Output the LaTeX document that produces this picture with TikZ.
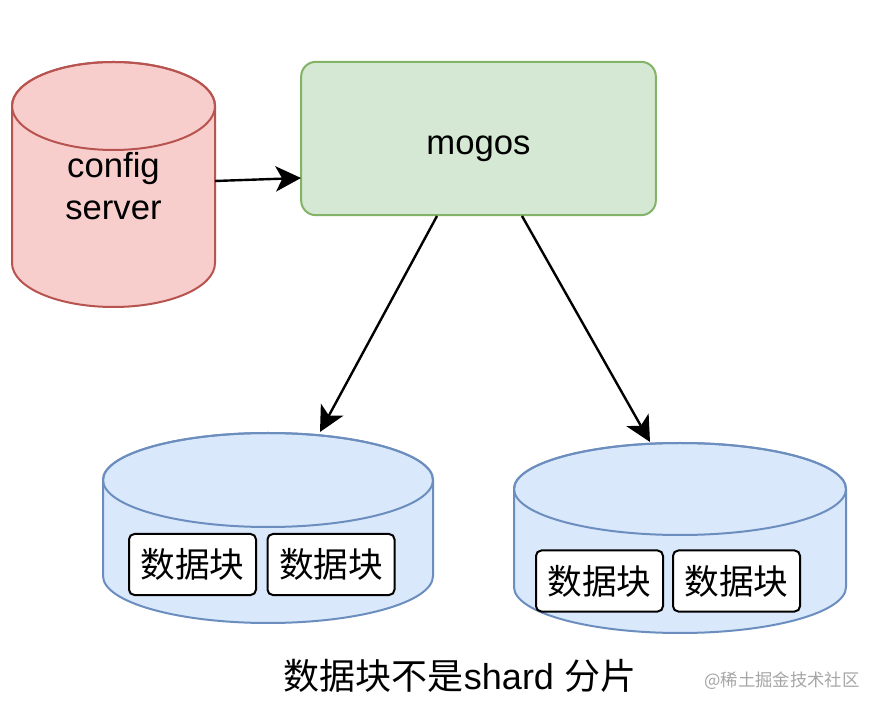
\documentclass[tikz,border=0pt]{standalone}
\usepackage{fontspec}
\setmainfont{Liberation Sans}
\newfontfamily\cjk{Noto Sans CJK SC}
\usetikzlibrary{arrows.meta}
\definecolor{redfill}{HTML}{F8CECC}
\definecolor{redline}{HTML}{B85450}
\definecolor{greenfill}{HTML}{D5E8D4}
\definecolor{greenline}{HTML}{82B366}
\definecolor{bluefill}{HTML}{DAE8FC}
\definecolor{blueline}{HTML}{6C8EBF}
\tikzset{
  bigtext/.style={font=\fontsize{26}{32}\selectfont},
  blockbox/.style={draw=black, fill=white, line width=1.5pt, rounded corners=4pt,
     minimum width=95.25pt, minimum height=45.75pt, inner sep=0pt,
     font=\cjk\fontsize{26}{30}\selectfont},
  conn/.style={line width=1.8pt, -{Stealth[length=19pt,width=19pt,inset=5pt]}},
}
\begin{document}
\begin{tikzpicture}[x=0.75pt,y=0.75pt]
\fill[white] (0,0) rectangle (870,703);
\useasboundingbox (0,0) rectangle (870,703);
% config server cylinder
\filldraw[fill=redfill, draw=redline, line width=1.5pt]
  (12,597) -- (12,440) arc[start angle=180,end angle=360,x radius=101.5,y radius=44]
  -- (215,597) arc[start angle=0,end angle=180,x radius=101.5,y radius=44] -- cycle;
\draw[redline, line width=1.5pt] (113.5,597) ellipse [x radius=101.5, y radius=44];
\node[bigtext, align=center] (cfg) at (113.5,517) {config\\server};
\coordinate (cfgE) at (215,522);
% mogos
\node[draw=greenline, fill=greenfill, line width=1.5pt, rounded corners=11pt,
  minimum width=266pt, minimum height=115pt, inner sep=0pt] (mogos) at (478.5,564.5) {};
\node[bigtext] (mogost) at (478.5,554) {mogos};
\coordinate (mogosW) at (301,525);
\coordinate (mogosL) at (437,487);
\coordinate (mogosR) at (522,487);
% left disk
\filldraw[fill=bluefill, draw=blueline, line width=1.5pt]
  (103,223) -- (103,127) arc[start angle=180,end angle=360,x radius=165,y radius=47]
  -- (433,223) arc[start angle=0,end angle=180,x radius=165,y radius=47] -- cycle;
\draw[blueline, line width=1.5pt] (268,223) ellipse [x radius=165, y radius=47];
\coordinate (diskL) at (320,271);
% right disk
\filldraw[fill=bluefill, draw=blueline, line width=1.5pt]
  (514,214) -- (514,116) arc[start angle=180,end angle=360,x radius=166,y radius=46]
  -- (846,214) arc[start angle=0,end angle=180,x radius=166,y radius=46] -- cycle;
\draw[blueline, line width=1.5pt] (680,214) ellipse [x radius=166, y radius=46];
\coordinate (diskR) at (650,261);
% blocks
\node[blockbox] (b1) at (192.5,138.5) {数据块};
\node[blockbox] (b2) at (331,138.5) {数据块};
\node[blockbox] (b3) at (599.5,122) {数据块};
\node[blockbox] (b4) at (736.5,122) {数据块};
% arrows
\draw[conn] (cfgE) -- (mogosW);
\draw[conn] (mogosL) -- (diskL);
\draw[conn] (mogosR) -- (diskR);
% caption
\node[font=\fontsize{27}{31}\selectfont] (cap) at (460,27) {{\cjk 数据块不是}shard {\cjk 分片}};
\node[font=\cjk\fontsize{13}{15}\selectfont, text=black!35] (wm) at (782,22) {@稀土掘金技术社区};
\end{tikzpicture}
\end{document}
